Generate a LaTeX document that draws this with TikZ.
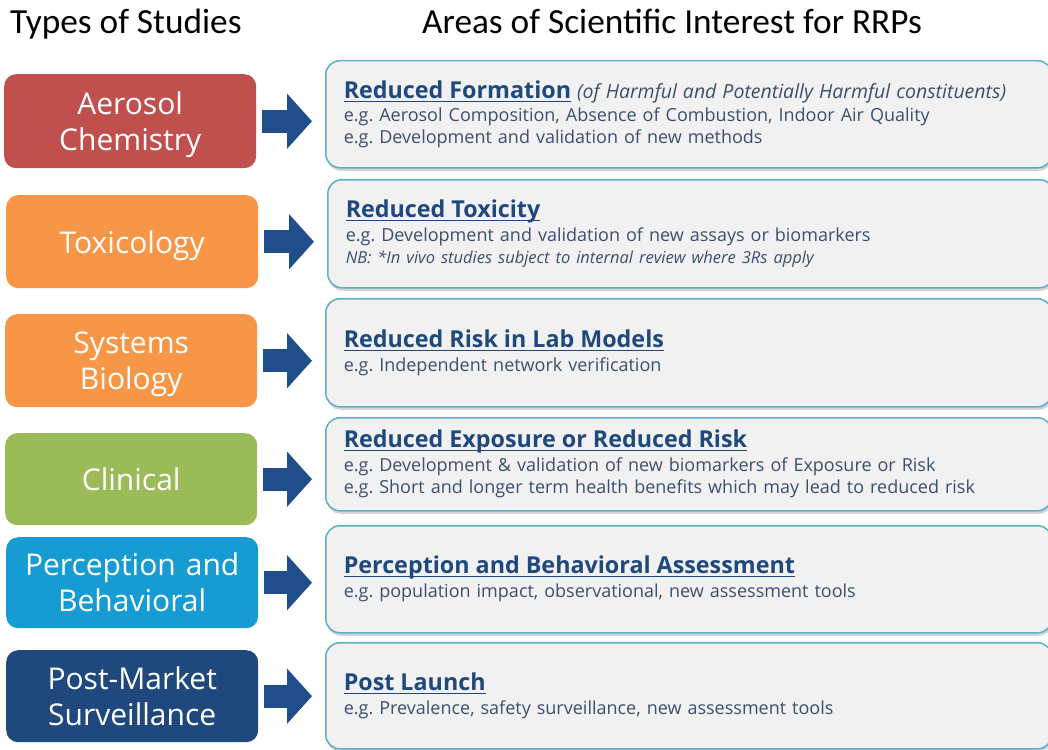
\documentclass[tikz,border=0pt]{standalone}
\usepackage{fontspec}
\setmainfont{Open Sans}
\newfontfamily\headfont{Carlito}
\definecolor{chemred}{HTML}{C0504D}
\usetikzlibrary{positioning, arrows.meta, shadows}
\definecolor{toxorange}{HTML}{F79646}
\definecolor{clingreen}{HTML}{9BBB59}
\definecolor{percblue}{HTML}{169CD3}
\definecolor{postblue}{HTML}{1F497D}
\definecolor{arrowblue}{HTML}{1F4E8A}
\definecolor{areafill}{HTML}{F1F1F1}
\definecolor{areaedge}{HTML}{5AB0C8}
\definecolor{titleblue}{HTML}{1F497D}
\definecolor{bodyblue}{HTML}{3B4F6E}
\newsavebox{\areabox}
\newcommand{\areaul}[1]{\sbox{\areabox}{#1}\rlap{\raisebox{-3.5pt}{\rule{\wd\areabox}{1.4pt}}}\usebox{\areabox}}
\frenchspacing

\begin{document}
\begin{tikzpicture}[x=1pt, y=-1pt]

        % Styles
        \tikzstyle{study} = [rounded corners=12pt, text=white, align=center, text width=240pt, minimum width=252pt, inner sep=0pt, anchor=north west, font=\fontsize{30}{36}\selectfont]
        \tikzstyle{area} = [draw=areaedge, line width=1.5pt, fill=areafill, rounded corners=14pt, anchor=north west, text width=690pt, inner xsep=18pt, inner ysep=0pt, align=left, text=bodyblue, font=\fontsize{18}{22}\selectfont, drop shadow={shadow xshift=1pt, shadow yshift=-3pt, opacity=0.35}]
        \tikzstyle{bigarrow} = [line width=23pt, arrowblue, -{Triangle[length=25pt, width=54pt]}, shorten <=6pt, shorten >=13pt]
        \newcommand{\areatitle}[1]{{\fontsize{23.3}{26}\selectfont\bfseries\color{titleblue}\areaul{#1}}}

        \useasboundingbox (0,0) rectangle (1048,749);

        % --- HEADINGS ---
        \node[anchor=base west, font=\headfont\fontsize{35.3}{38}\selectfont, inner sep=0pt] (typeshead) at (10,34) {Types of Studies};
        \node[anchor=base west, font=\headfont\fontsize{35.3}{38}\selectfont, inner sep=0pt] (areashead) at (422,34) {Areas of Scientific Interest for RRPs};

        % --- LEFT: TYPES OF STUDIES ---
        \node[study, fill=chemred, minimum height=94pt, text depth=36pt] (chem) at (4,74) {Aerosol\\Chemistry};
        \node[study, fill=toxorange, minimum height=93pt, text depth=0pt] (tox) at (6,195) {Toxicology};
        \node[study, fill=toxorange, minimum height=93pt, text depth=36pt] (sysbio) at (5,314) {Systems\\Biology};
        \node[study, fill=clingreen, minimum height=92pt] (clin) at (5,433) {Clinical};
        \node[study, fill=percblue, minimum height=91pt] (perc) at (6,537) {Perception and\\Behavioral};
        \node[study, fill=postblue, minimum height=92pt] (post) at (6,650) {Post-Market\\Surveillance};

        % --- RIGHT: AREAS OF INTEREST ---
        \node[area, minimum height=107pt] (formation) at (325,60) {\areatitle{Reduced Formation} {\itshape\fontsize{19.5}{22}\selectfont (of Harmful and Potentially Harmful constituents)}\\[1pt]
            e.g. Aerosol Composition, Absence of Combustion, Indoor Air Quality\\
            e.g. Development and validation of new methods};
        \node[area, minimum height=108pt] (toxicity) at (327,179) {\areatitle{Reduced Toxicity}\\[2pt]
            e.g. Development and validation of new assays or biomarkers\\
            {\itshape\fontsize{16.5}{20}\selectfont NB: *In vivo studies subject to internal review where 3Rs apply}};
        \node[area, minimum height=108pt] (labrisk) at (325,298) {\areatitle{Reduced Risk in Lab Models}\\[2pt]
            e.g. Independent network verification};
        \node[area, minimum height=93pt] (exposure) at (325,417) {\areatitle{Reduced Exposure or Reduced Risk}\\[2pt]
            e.g. Development \& validation of new biomarkers of Exposure or Risk\\
            e.g. Short and longer term health benefits which may lead to reduced risk};
        \node[area, minimum height=107pt] (behav) at (325,525) {\areatitle{Perception and Behavioral Assessment}\\[2pt]
            e.g. population impact, observational, new assessment tools};
        \node[area, minimum height=106pt] (launch) at (325,642) {\areatitle{Post Launch}\\[2pt]
            e.g. Prevalence, safety surveillance, new assessment tools};

        % --- ARROWS ---
        \draw[bigarrow] (chem.east) -- (chem.east -| formation.west);
        \draw[bigarrow] (tox.east) -- (tox.east -| toxicity.west);
        \draw[bigarrow] (sysbio.east) -- (sysbio.east -| labrisk.west);
        \draw[bigarrow] (clin.east) -- (clin.east -| exposure.west);
        \draw[bigarrow] (perc.east) -- (perc.east -| behav.west);
        \draw[bigarrow] (post.east) -- (post.east -| launch.west);

    \end{tikzpicture}
\end{document}
